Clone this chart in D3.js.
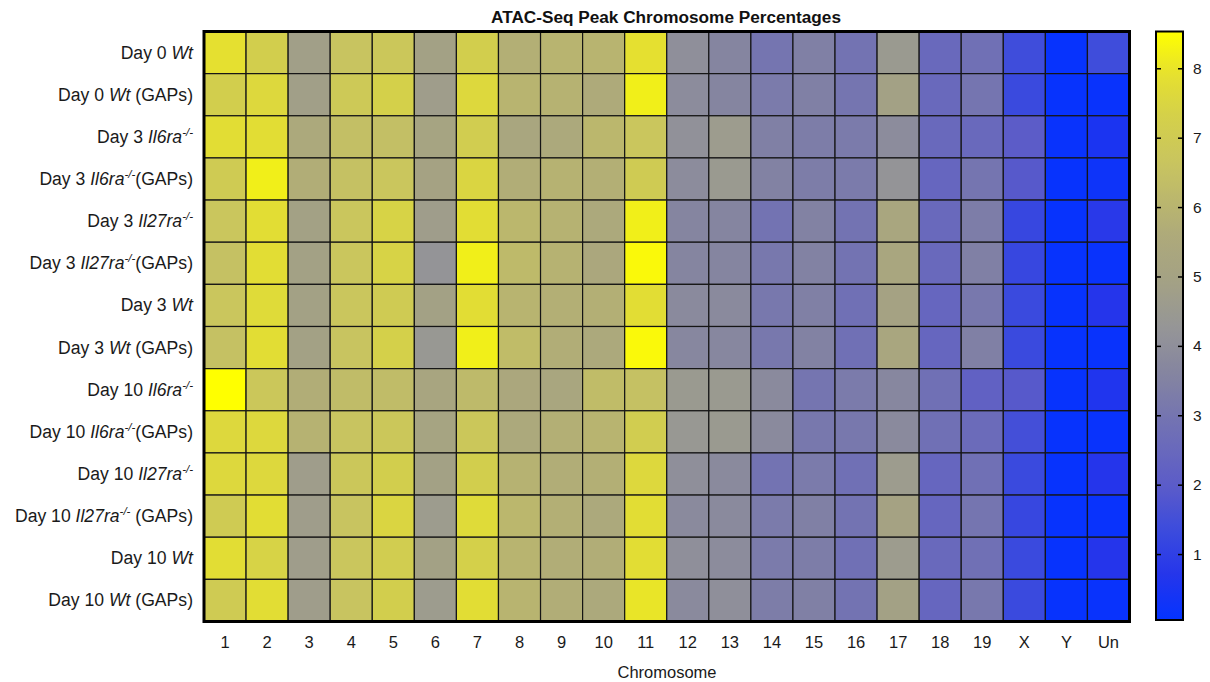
<!DOCTYPE html>
<html>
<head>
<meta charset="utf-8">
<script src="https://cdn.jsdelivr.net/npm/d3@7/dist/d3.min.js"></script>
<style>
  html, body { margin: 0; padding: 0; background: #ffffff; }
  svg { display: block; font-family: "Liberation Sans", Arial, Helvetica, sans-serif; }
</style>
</head>
<body>
<svg id="chart" width="1210" height="682"></svg>
<script>
// Chromosomes along the x axis
const chromosomes = ["1","2","3","4","5","6","7","8","9","10","11","12","13","14","15","16","17","18","19","X","Y","Un"];

// Sample rows: [prefix, italic gene, superscript, suffix]
const sampleLabels = [
  ["Day 0 ", "Wt", "", ""],
  ["Day 0 ", "Wt", "", " (GAPs)"],
  ["Day 3 ", "Il6ra", "-/-", ""],
  ["Day 3 ", "Il6ra", "-/-", "(GAPs)"],
  ["Day 3 ", "Il27ra", "-/-", ""],
  ["Day 3 ", "Il27ra", "-/-", "(GAPs)"],
  ["Day 3 ", "Wt", "", ""],
  ["Day 3 ", "Wt", "", " (GAPs)"],
  ["Day 10 ", "Il6ra", "-/-", ""],
  ["Day 10 ", "Il6ra", "-/-", "(GAPs)"],
  ["Day 10 ", "Il27ra", "-/-", ""],
  ["Day 10 ", "Il27ra", "-/-", " (GAPs)"],
  ["Day 10 ", "Wt", "", ""],
  ["Day 10 ", "Wt", "", " (GAPs)"]
];

// Percentage of ATAC-seq peaks per chromosome, one row per sample
const day0Wt          = [7.9,7.2,4.8,6.6,6.8,4.9,7.2,5.8,6.0,6.0,7.9, 4.0,3.6,3.0,3.4,2.9,4.5,2.5,2.8,1.4,0.1,1.4];
const day0WtGaps      = [7.2,7.6,4.8,6.9,7.3,4.7,7.6,6.0,5.9,5.6,8.2, 3.9,3.6,3.2,3.4,3.0,4.9,2.5,3.0,1.3,0.1,0.15];
const day3Il6ra       = [7.8,7.8,5.5,6.4,6.4,5.1,7.1,5.3,5.5,6.1,6.7, 4.1,4.6,3.4,3.3,3.2,3.9,2.5,2.5,2.0,0.15,0.5];
const day3Il6raGaps   = [7.0,8.2,5.7,6.5,6.7,5.0,7.5,5.7,5.9,5.8,7.0, 3.9,4.5,3.5,3.3,3.2,4.2,2.4,3.0,1.9,0.1,0.25];
const day3Il27ra      = [6.7,7.8,4.9,6.7,7.4,4.7,7.8,6.1,5.9,5.5,8.2, 3.6,3.6,2.9,3.5,2.9,5.3,2.5,3.3,1.2,0.1,0.8];
const day3Il27raGaps  = [6.5,7.8,4.9,6.7,7.4,4.2,8.2,6.2,5.9,5.4,8.4, 3.6,3.6,3.1,3.5,2.9,5.3,2.5,3.4,1.2,0.1,0.15];
const day3Wt          = [6.7,7.7,4.9,6.7,7.0,4.9,7.8,6.0,5.8,5.8,7.8, 3.8,3.8,3.1,3.4,2.8,5.0,2.4,3.1,1.3,0.1,0.7];
const day3WtGaps      = [6.5,7.8,4.9,6.6,7.3,4.4,8.2,6.3,5.7,5.5,8.4, 3.7,3.7,3.1,3.5,2.8,5.3,2.4,3.4,1.3,0.1,0.15];
const day10Il6ra      = [8.53,6.8,5.7,6.3,6.3,5.2,6.2,5.4,5.3,6.3,6.5, 4.5,4.5,3.8,3.0,3.2,3.7,2.8,2.2,1.9,0.1,0.6];
const day10Il6raGaps  = [7.6,7.6,5.9,6.6,6.8,5.1,6.8,5.5,5.8,6.0,7.1, 4.4,4.5,3.8,3.1,3.1,3.8,2.8,2.6,1.5,0.1,0.15];
const day10Il27ra     = [7.6,7.6,4.7,6.8,7.2,4.9,7.2,5.9,5.7,5.8,7.6, 4.0,3.8,2.9,3.2,2.8,4.6,2.4,2.8,1.3,0.1,0.7];
const day10Il27raGaps = [7.0,7.8,4.7,6.6,7.5,4.6,7.7,6.1,5.8,5.5,7.8, 3.8,3.8,3.2,3.4,2.9,5.0,2.4,3.0,1.2,0.1,0.15];
const day10Wt         = [7.8,7.4,4.7,6.7,7.1,4.9,7.3,6.0,5.7,5.7,7.8, 4.0,3.9,3.2,3.3,2.8,4.6,2.5,2.8,1.3,0.1,0.7];
const day10WtGaps     = [7.0,7.8,4.7,6.6,7.2,4.6,7.8,6.0,5.7,5.5,8.0, 3.8,4.0,3.3,3.4,2.9,4.9,2.4,3.1,1.3,0.1,0.15];

const rowValues = [day0Wt, day0WtGaps, day3Il6ra, day3Il6raGaps, day3Il27ra, day3Il27raGaps,
  day3Wt, day3WtGaps, day10Il6ra, day10Il6raGaps, day10Il27ra, day10Il27raGaps, day10Wt, day10WtGaps];

// Blue - grey - yellow colour scale and colour bar ticks
const colorDomain = [0.05, 0.7, 1.3, 2.0, 2.8, 3.6, 4.3, 4.9, 5.6, 6.6, 7.3, 7.9, 8.53];
const colorRange = ["#0433ff", "#2535eb", "#3a4ade", "#5c5cc8", "#7070b5", "#8585a0", "#969696",
  "#a3a185", "#aeaa7a", "#c8c460", "#d4d04a", "#e5e030", "#ffff00"];
const colorTicks = [1, 2, 3, 4, 5, 6, 7, 8];

const svg = d3.select("#chart");
const plot = { left: 204, right: 1129.5, top: 31.5, bottom: 621.5 };
const bar = { left: 1156, right: 1183, top: 31.5, bottom: 620 };

const x = d3.scaleBand().domain(chromosomes).range([plot.left, plot.right]);
const y = d3.scaleBand().domain(d3.range(sampleLabels.length)).range([plot.top, plot.bottom]);
const color = d3.scaleLinear().domain(colorDomain).range(colorRange).clamp(true);
const vMin = colorDomain[0], vMax = colorDomain[colorDomain.length - 1];

// Cells
const cells = [];
rowValues.forEach((row, r) => row.forEach((v, c) => cells.push({ r, c: chromosomes[c], v })));

svg.append("g")
  .selectAll("rect")
  .data(cells)
  .join("rect")
  .attr("x", d => x(d.c))
  .attr("y", d => y(d.r))
  .attr("width", x.bandwidth())
  .attr("height", y.bandwidth())
  .attr("fill", d => color(d.v))
  .attr("stroke", "#151515")
  .attr("stroke-width", 1.2);

// Heatmap frame
svg.append("rect")
  .attr("x", plot.left)
  .attr("y", plot.top)
  .attr("width", plot.right - plot.left)
  .attr("height", plot.bottom - plot.top)
  .attr("fill", "none")
  .attr("stroke", "#000")
  .attr("stroke-width", 3);

// Title
svg.append("text")
  .attr("x", 666)
  .attr("y", 23)
  .attr("text-anchor", "middle")
  .attr("font-weight", "bold")
  .attr("font-size", 17.2)
  .attr("fill", "#111")
  .text("ATAC-Seq Peak Chromosome Percentages");

// Row labels with italic gene names and superscripts
const rowLabel = svg.append("g")
  .selectAll("text")
  .data(sampleLabels)
  .join("text")
  .attr("x", 193)
  .attr("y", (d, i) => y(i) + y.bandwidth() / 2 + 6)
  .attr("text-anchor", "end")
  .attr("font-size", 17.6)
  .attr("fill", "#1a1a1a");

rowLabel.each(function(d) {
  const t = d3.select(this);
  t.append("tspan").text(d[0]);
  t.append("tspan").attr("font-style", "italic").text(d[1]);
  if (d[2]) {
    t.append("tspan").attr("font-size", 11.5).attr("font-style", "italic").attr("dy", -7).text(d[2]);
  }
  if (d[3]) {
    t.append("tspan").attr("dy", d[2] ? 7 : 0).text(d[3]);
  }
});

// X axis labels
const xAxis = svg.append("g")
  .attr("transform", `translate(0,${plot.bottom})`)
  .call(d3.axisBottom(x).tickSize(0).tickPadding(15));
xAxis.select(".domain").remove();
xAxis.selectAll("text")
  .attr("font-size", 16.5)
  .attr("font-family", "'Liberation Sans', Arial, sans-serif")
  .attr("fill", "#1a1a1a");

svg.append("text")
  .attr("x", 667)
  .attr("y", 678)
  .attr("text-anchor", "middle")
  .attr("font-size", 16.5)
  .attr("fill", "#1a1a1a")
  .text("Chromosome");

// Colour bar
const defs = svg.append("defs");
const grad = defs.append("linearGradient")
  .attr("id", "cbar")
  .attr("x1", 0).attr("y1", 1).attr("x2", 0).attr("y2", 0);
const cy = d3.scaleLinear().domain([vMin, vMax]).range([bar.bottom, bar.top]);
d3.range(0, 1.0001, 0.02).forEach(t => {
  grad.append("stop")
    .attr("offset", t)
    .attr("stop-color", color(vMin + t * (vMax - vMin)));
});

svg.append("rect")
  .attr("x", bar.left)
  .attr("y", bar.top)
  .attr("width", bar.right - bar.left)
  .attr("height", bar.bottom - bar.top)
  .attr("fill", "url(#cbar)")
  .attr("stroke", "#000")
  .attr("stroke-width", 2);

const barRight = svg.append("g")
  .attr("transform", `translate(${bar.right},0)`)
  .call(d3.axisRight(cy).tickValues(colorTicks).tickSize(-5).tickPadding(10).tickFormat(d3.format("d")));
barRight.select(".domain").remove();
barRight.selectAll("line").attr("stroke", "#000").attr("stroke-width", 1.5);
barRight.selectAll("text")
  .attr("font-size", 15.5)
  .attr("font-family", "'Liberation Sans', Arial, sans-serif")
  .attr("fill", "#1a1a1a");

const barLeft = svg.append("g")
  .attr("transform", `translate(${bar.left},0)`)
  .call(d3.axisLeft(cy).tickValues(colorTicks).tickSize(-5).tickFormat(""));
barLeft.select(".domain").remove();
barLeft.selectAll("line").attr("stroke", "#000").attr("stroke-width", 1.5);
</script>
</body>
</html>
